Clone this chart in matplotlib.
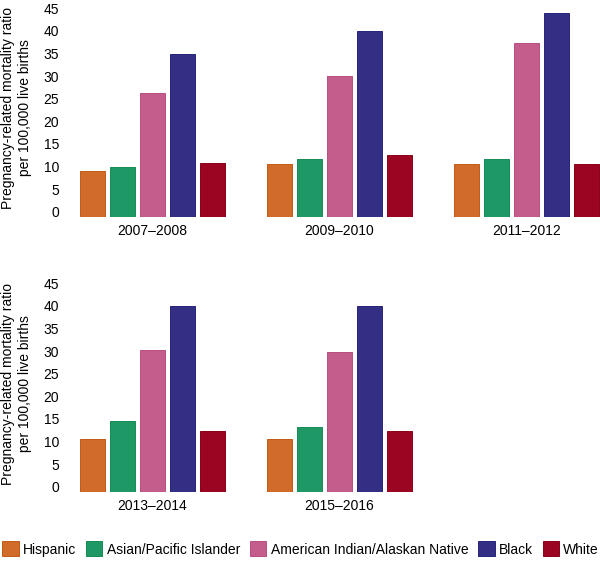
import matplotlib
matplotlib.use('Agg')
import matplotlib.pyplot as plt
from matplotlib.patches import Patch

plt.rcParams['font.family'] = ['Liberation Sans', 'DejaVu Sans']
plt.rcParams['font.size'] = 10

# data
groups = ['Hispanic', 'Asian/Pacific Islander', 'American Indian/Alaskan Native', 'Black', 'White']
periods = ['2007\u20132008', '2009\u20132010', '2011\u20132012', '2013\u20132014', '2015\u20132016']
hispanic = [9.1, 10.6, 10.6, 10.5, 10.5]
asian_pi = [10.0, 11.6, 11.6, 14.5, 13.3]
aian = [26.3, 30.1, 37.3, 30.2, 29.9]
black = [34.8, 40.0, 44.0, 40.0, 40.0]
white = [10.7, 12.5, 10.6, 12.4, 12.4]
yticks = [0, 5, 10, 15, 20, 25, 30, 35, 40, 45]

colors = ['#D06B29', '#1E9966', '#C45C8C', '#332F85', '#9B0521']
edges = ['#C25A18', '#178A58', '#B84E80', '#27237A', '#8A0018']

W, H = 600, 561
fig = plt.figure(figsize=(W / 100, H / 100), dpi=100)

ymin, ymax = -1.1, 45
ylab = 'Pregnancy-related mortality ratio\nper 100,000 live births'

def add_panel(i, col, top_px, bottom_px):
    left_px = 76 + 187 * col
    ax = fig.add_axes([left_px / W, (H - bottom_px) / H, 153 / W, (bottom_px - top_px) / H])
    vals = [hispanic[i], asian_pi[i], aian[i], black[i], white[i]]
    xs = range(len(vals))
    ax.bar(xs, [v - ymin for v in vals], bottom=ymin, width=0.84,
           color=colors, edgecolor=edges, linewidth=0.7)
    ax.set_xlim(-0.55, 4.55)
    ax.set_ylim(ymin, ymax)
    if col == 0:
        ax.set_yticks(yticks)
    else:
        ax.set_yticks([])
    ax.set_xticks([2])
    ax.set_xticklabels([periods[i]])
    ax.tick_params(axis='y', length=0, pad=12, labelsize=10)
    ax.tick_params(axis='x', length=0, pad=5, labelsize=10)
    for s in ax.spines.values():
        s.set_visible(False)
    return ax

for i in range(3):
    add_panel(i, i, 8.3, 216.7)
for i in range(3, 5):
    add_panel(i, i - 3, 283.3, 491.7)

fig.text(16.5 / W, (H - 108) / H, ylab, rotation=90, ha='center', va='center',
         multialignment='center', fontsize=10, linespacing=1.2)
fig.text(16.5 / W, (H - 384) / H, ylab, rotation=90, ha='center', va='center',
         multialignment='center', fontsize=10, linespacing=1.2)

handles = [Patch(facecolor=c, edgecolor=e, linewidth=0.7) for c, e in zip(colors, edges)]
fig.legend(handles, groups, loc='center left', bbox_to_anchor=(2 / W, (H - 549) / H),
           ncol=5, frameon=False, fontsize=10, handlelength=1.2, handleheight=1.25,
           handletextpad=0.3, columnspacing=0.7, borderpad=0, borderaxespad=0)

fig.savefig('out.png', dpi=100)
